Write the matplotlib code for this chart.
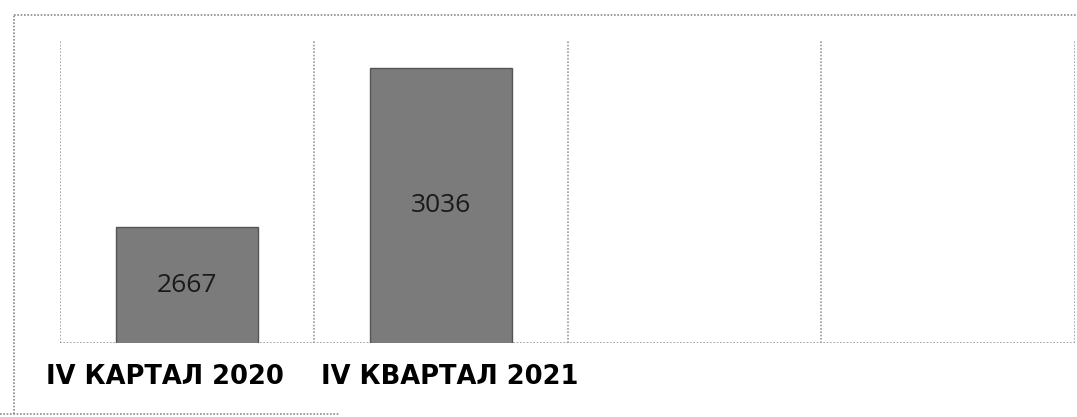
import matplotlib.pyplot as plt
from matplotlib.lines import Line2D
from matplotlib.transforms import ScaledTranslation

# Chart data
categories = ['IV КАРТАЛ 2020', 'IV КВАРТАЛ 2021', '', '']
values = [2667, 3036]
y_min, y_max = 2400, 3100

fig = plt.figure(figsize=(10.77, 4.17), dpi=100)
ax = fig.add_axes([60 / 1077, 1 - 343 / 417, 1015 / 1077, 303 / 417])

positions = list(range(len(categories)))
bars = ax.bar(positions[:len(values)], values, width=0.56,
              color='#7b7b7b', edgecolor='#555555', linewidth=1, zorder=3)

# value labels in the middle of each bar
for rect, v in zip(bars, values):
    ax.text(rect.get_x() + rect.get_width() / 2, (y_min + v) / 2, str(v),
            ha='center', va='center', fontsize=19, color='#1a1a1a',
            family='Open Sans', zorder=4)

ax.set_xlim(-0.5, len(categories) - 0.5)
ax.set_ylim(y_min, y_max)
ax.set_xticks(positions)
ax.set_xticklabels(categories, fontsize=18.5, fontweight='bold', family='DejaVu Sans')
ax.tick_params(axis='x', length=0, pad=15)
ax.set_yticks([])

# the typed labels sit a little off the category centres
shifts = [-22, 9, 0, 0]
for lbl, dx in zip(ax.get_xticklabels(), shifts):
    lbl.set_transform(lbl.get_transform() + ScaledTranslation(dx / 100, 0, fig.dpi_scale_trans))

# dotted separators between categories and the axis lines
dot = dict(color='#9a9a9a', linestyle=(0, (1, 1)), linewidth=1.2)
for x in [p - 0.5 for p in positions] + [len(categories) - 0.5]:
    ax.axvline(x, zorder=1, **dot)
ax.axhline(y_min, zorder=1, **dot)

for side in ax.spines:
    ax.spines[side].set_visible(False)

# outer frame of the chart box
fx0, fx1 = 14 / 1077, 1.0
fy0, fy1 = 1 - 414 / 417, 1 - 15 / 417
frame_style = dict(color='#8a8a8a', linestyle=(0, (1, 1)), linewidth=1.2,
                   transform=fig.transFigure)
fig.add_artist(Line2D([fx0, fx1], [fy1, fy1], **frame_style))
fig.add_artist(Line2D([fx0, fx0], [fy0, fy1], **frame_style))
fig.add_artist(Line2D([0, 340 / 1077], [fy0, fy0], **frame_style))

fig.savefig('out.png', dpi=100)
